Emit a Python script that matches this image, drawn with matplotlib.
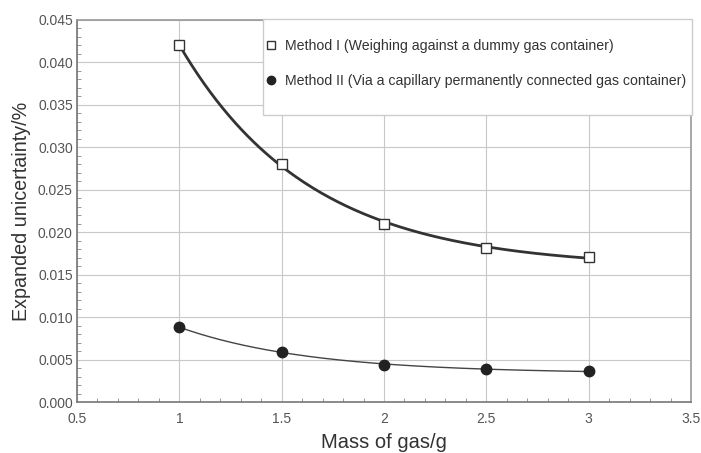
import numpy as np
import matplotlib.pyplot as plt
from matplotlib.ticker import MultipleLocator
from matplotlib.patches import Rectangle

plt.rcParams['font.family'] = ['Liberation Sans', 'DejaVu Sans']

mass = np.array([1.0, 1.5, 2.0, 2.5, 3.0])
method1 = np.array([0.0420, 0.0280, 0.0210, 0.0182, 0.0171])
method2 = np.array([0.0088, 0.0059, 0.0044, 0.0039, 0.0036])

label1 = 'Method I (Weighing against a dummy gas container)'
label2 = 'Method II (Via a capillary permanently connected gas container)'


def exp_fit(x, y):
    # y = a + b*exp(-k x), k by grid search, a and b by least squares
    best = None
    for k in np.linspace(0.1, 5, 500):
        A = np.column_stack([np.ones_like(x), np.exp(-k * x)])
        coef, res, _, _ = np.linalg.lstsq(A, y, rcond=None)
        err = np.sum((A @ coef - y) ** 2)
        if best is None or err < best[0]:
            best = (err, k, coef)
    _, k, coef = best
    return lambda t: coef[0] + coef[1] * np.exp(-k * t)


xs = np.linspace(1, 3, 200)
f1 = exp_fit(mass, method1)
f2 = exp_fit(mass, method2)

fig = plt.figure(figsize=(7.01, 4.53), dpi=100)
ax = fig.add_axes([77 / 701, 1 - 402 / 453, 614 / 701, 382 / 453])

ax.plot(xs, f1(xs), color='#333333', lw=2, zorder=2)
ax.plot(xs, f2(xs), color='#444444', lw=1, zorder=2)
ax.plot(mass, method1, ls='none', marker='s', ms=7.5, mfc='white', mec='#333333',
        mew=1, label=label1, zorder=3)
ax.plot(mass, method2, ls='none', marker='o', ms=7.5, mfc='#222222', mec='#222222',
        label=label2, zorder=3)

ax.set_xlim(0.5, 3.5)
ax.set_ylim(0, 0.045)
ax.set_xticks([0.5, 1, 1.5, 2, 2.5, 3, 3.5])
ax.set_xticklabels(['0.5', '1', '1.5', '2', '2.5', '3', '3.5'])
ax.xaxis.set_minor_locator(MultipleLocator(0.1))
ax.yaxis.set_major_locator(MultipleLocator(0.005))
ax.yaxis.set_minor_locator(MultipleLocator(0.001))
ax.yaxis.set_major_formatter(plt.FuncFormatter(lambda v, p: f'{v:.3f}'))

ax.grid(True, which='major', color='#c8c8c8', lw=0.8)
ax.set_axisbelow(True)
ax.tick_params(which='both', direction='in', colors='#888888', labelcolor='#555555',
               labelsize=10)
ax.tick_params(which='major', length=0)
ax.tick_params(axis='y', which='major', pad=3)
ax.tick_params(axis='x', which='major', pad=7)
ax.tick_params(which='minor', length=3)
for s in ax.spines.values():
    s.set_color('#999999')
    s.set_linewidth(1.2)
ax.spines['left'].set_color('#777777')
ax.spines['bottom'].set_color('#777777')

ax.set_xlabel('Mass of gas/g', fontsize=14.5, color='#333333', labelpad=5)
ax.set_ylabel('Expanded unicertainty/%', fontsize=14.2, color='#333333', labelpad=5)

# legend box drawn separately so its size matches the original
box = Rectangle((0.303, 0.751), 0.699, 0.251, transform=ax.transAxes,
                facecolor='white', edgecolor='#cccccc', lw=1, zorder=4, clip_on=False)
ax.add_patch(box)
leg = ax.legend(loc='upper left', bbox_to_anchor=(0.306, 0.950), fontsize=10.2,
                handletextpad=0.55, handlelength=0.9, markerscale=0.8,
                labelspacing=1.45, borderpad=0, borderaxespad=0, frameon=False)
leg.set_zorder(5)
for t in leg.get_texts():
    t.set_color('#333333')

fig.savefig('out.png', dpi=100)
